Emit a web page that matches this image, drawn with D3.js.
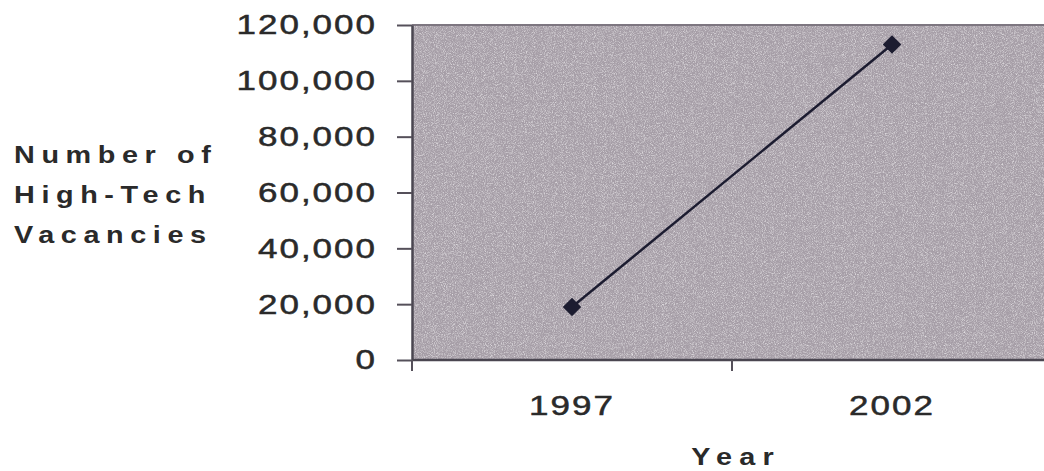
<!DOCTYPE html>
<html>
<head>
<meta charset="utf-8">
<script src="https://cdn.jsdelivr.net/npm/d3@7"></script>
<style>
  html, body { margin: 0; padding: 0; background: #fff; overflow: hidden; }
  text { font-family: "Liberation Sans", Arial, sans-serif; fill: #2a2a2a; }
</style>
</head>
<body>
<div id="chart"></div>
<script>
/* High-tech vacancies line chart */

// data
const years = ["1997", "2002"];
const vacancies = [19000, 113000];
const yTicks = [0, 20000, 40000, 60000, 80000, 100000, 120000];
const yTitle = ["Number of", "High-Tech", "Vacancies"];
const xTitle = "Year";

// skeleton
const width = 1044,
    height = 471,
    margin = ({ top: 25, right: -8, bottom: 111, left: 412 });

const svg = d3.select("#chart")
    .append("svg")
    .attr("width", width)
    .attr("height", height);

// grainy texture for the plot area
const defs = svg.append("defs");
const grain = defs.append("filter")
    .attr("id", "grain")
    .attr("x", 0).attr("y", 0).attr("width", 1).attr("height", 1);
grain.append("feTurbulence")
    .attr("type", "fractalNoise")
    .attr("baseFrequency", 1.1)
    .attr("numOctaves", 2)
    .attr("seed", 4)
    .attr("result", "noise");
grain.append("feColorMatrix")
    .attr("in", "noise")
    .attr("type", "matrix")
    .attr("values", "0 0 0 0 1  0 0 0 0 1  0 0 0 0 1  2 0 0 0 -0.85");

let x = d3.scaleBand()
    .domain(years)
    .range([margin.left, width - margin.right]);

let y = d3.scaleLinear()
    .domain([0, 120000])
    .range([height - margin.bottom, margin.top]);

const x0 = x.range()[0], x1 = x.range()[1];
const yTop = y(120000), yBot = y(0);

// plot background
svg.append("rect")
    .attr("x", x0).attr("y", yTop)
    .attr("width", x1 - x0).attr("height", yBot - yTop)
    .attr("fill", "#a69ea7");
svg.append("rect")
    .attr("x", x0).attr("y", yTop)
    .attr("width", x1 - x0).attr("height", yBot - yTop)
    .attr("fill", "#fff")
    .attr("filter", "url(#grain)")
    .attr("opacity", 0.7);

// top border
svg.append("line")
    .attr("x1", x0).attr("x2", x1)
    .attr("y1", yTop).attr("y2", yTop)
    .attr("stroke", "#7d7680")
    .attr("stroke-width", 2);

// y axis
const yAxis = svg.append("g")
    .attr("transform", `translate(${x0},0)`)
    .call(d3.axisLeft(y)
        .tickValues(yTicks)
        .tickSize(15)
        .tickPadding(13)
        .tickSizeOuter(0)
        .tickFormat(d3.format(",")));
yAxis.select(".domain").attr("stroke", "#4a4650").attr("stroke-width", 2.5);
yAxis.selectAll(".tick line").attr("stroke", "#55505a").attr("stroke-width", 2);
yAxis.selectAll(".tick text")
    .attr("font-size", 28)
    .attr("letter-spacing", 1.6)
    .attr("fill", "#2a2a2a")
    .attr("stroke", "#2a2a2a")
    .attr("stroke-width", 0.5)
    .attr("transform", "scale(1.25,1)")
    .attr("font-family", "Liberation Sans, Arial, sans-serif");

// x axis: line, boundary ticks and labels
svg.append("line")
    .attr("x1", x0).attr("x2", x1)
    .attr("y1", yBot).attr("y2", yBot)
    .attr("stroke", "#4a4650")
    .attr("stroke-width", 2.5);

const bounds = years.map(d => x(d)).concat([x1]);
svg.selectAll(".xtick")
    .data(bounds)
    .join("line")
    .attr("class", "xtick")
    .attr("x1", d => d).attr("x2", d => d)
    .attr("y1", yBot).attr("y2", yBot + 11)
    .attr("stroke", "#55505a")
    .attr("stroke-width", 2);

svg.selectAll(".xlabel")
    .data(years)
    .join("text")
    .attr("class", "xlabel")
    .attr("text-anchor", "middle")
    .attr("font-size", 28)
    .attr("letter-spacing", 1.6)
    .attr("stroke", "#2a2a2a")
    .attr("stroke-width", 0.5)
    .attr("transform", d => `translate(${x(d) + x.bandwidth() / 2},415) scale(1.25,1)`)
    .text(d => d);

// axis titles
svg.append("text")
    .attr("text-anchor", "middle")
    .attr("font-size", 24)
    .attr("font-weight", "bold")
    .attr("letter-spacing", 6)
    .attr("transform", `translate(${(x0 + x1) / 2 + 4},465) scale(1.2,1)`)
    .text(xTitle);

svg.selectAll(".ytitle")
    .data(yTitle)
    .join("text")
    .attr("class", "ytitle")
    .attr("font-size", 24)
    .attr("font-weight", "bold")
    .attr("letter-spacing", 5.5)
    .attr("transform", (d, i) => `translate(14,${163 + i * 40}) scale(1.2,1)`)
    .text(d => d);

// series
const points = years.map((d, i) => ({ year: d, value: vacancies[i] }));

let line = d3.line()
    .x(d => x(d.year) + x.bandwidth() / 2)
    .y(d => y(d.value));

svg.append("path")
    .datum(points)
    .attr("d", line)
    .attr("fill", "none")
    .attr("stroke", "#1c1c30")
    .attr("stroke-width", 2.5);

svg.selectAll(".marker")
    .data(points)
    .join("path")
    .attr("class", "marker")
    .attr("d", d3.symbol(d3.symbolSquare, 170))
    .attr("transform", d => `translate(${x(d.year) + x.bandwidth() / 2},${y(d.value)}) rotate(45)`)
    .attr("fill", "#1c1c30");
</script>
</body>
</html>
